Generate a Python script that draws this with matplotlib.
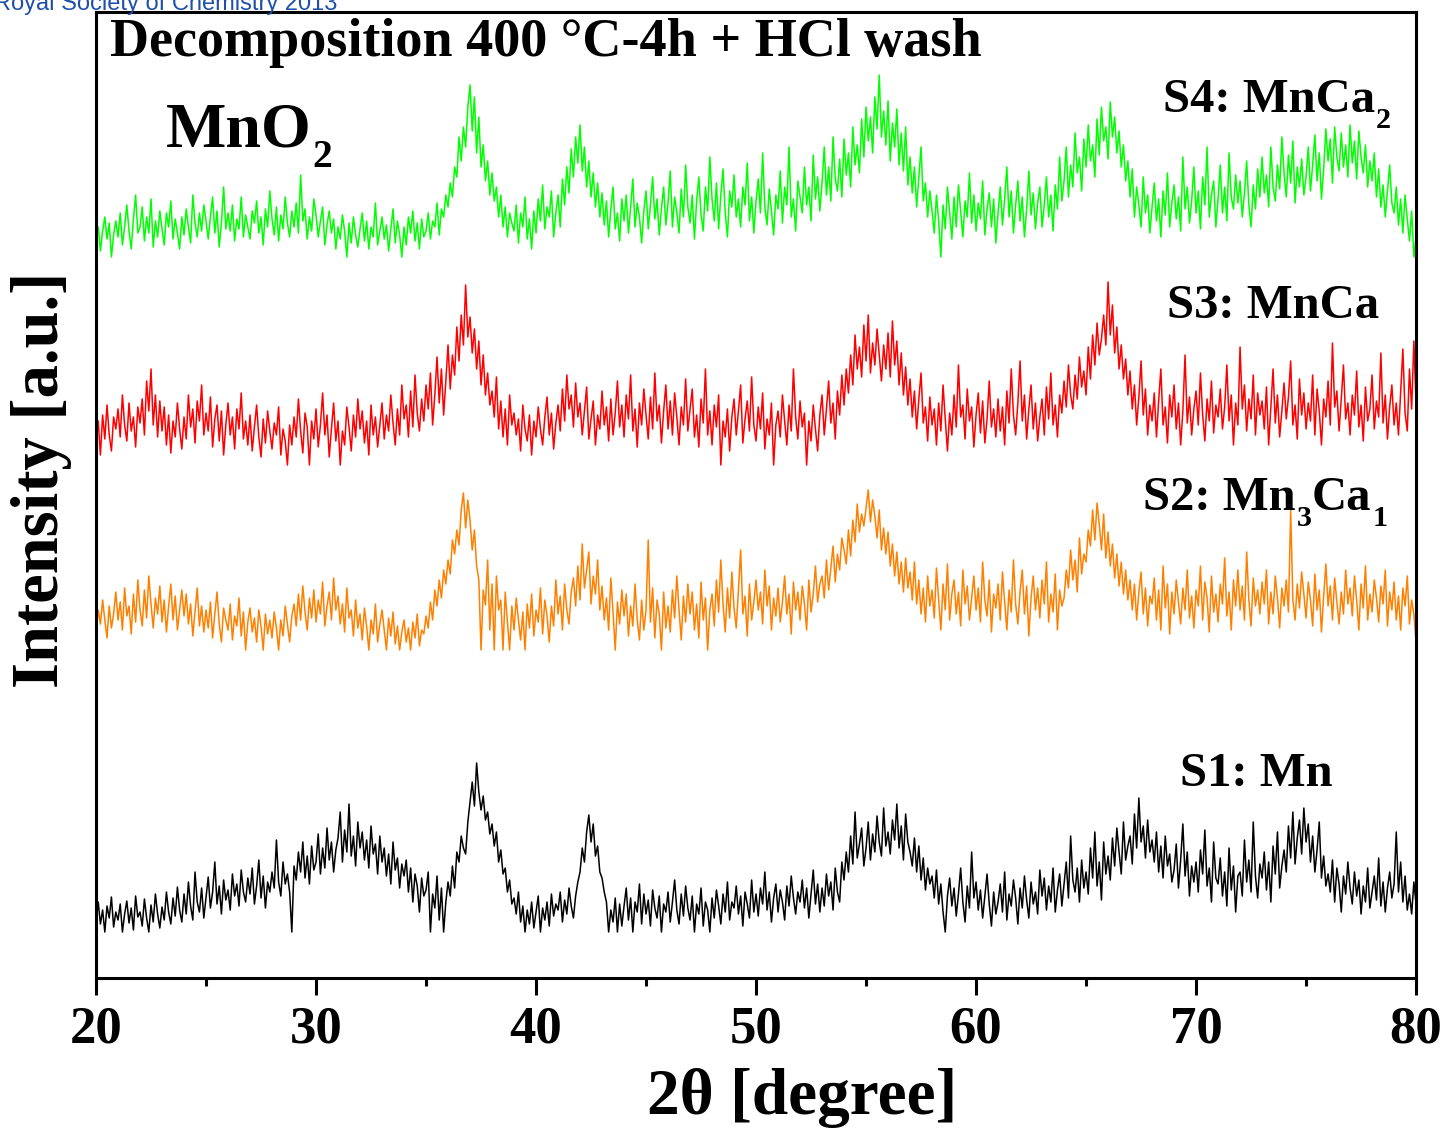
import numpy as np
import matplotlib
matplotlib.use('Agg')
import matplotlib.pyplot as plt
from matplotlib.ticker import MultipleLocator

plt.rcParams['font.family'] = 'Liberation Serif'
plt.rcParams['font.weight'] = 'bold'

# XRD scans, 20-80 deg in 0.1 deg steps, counts above each scan's floor
step = 0.1
theta0 = 20.0

s1_mn = [
    10, 30, 8, 22, 0, 26, 14, 35, 5, 20,
    12, 28, 0, 18, 31, 9, 24, 2, 36, 15,
    20, 6, 33, 14, 0, 27, 10, 38, 18, 4,
    25, 12, 40, 20, 8, 34, 16, 45, 22, 10,
    38, 18, 50, 26, 12, 60, 30, 20, 44, 14,
    35, 55, 24, 40, 70, 28, 46, 18, 52, 32,
    42, 22, 58, 36, 48, 26, 62, 40, 30, 54,
    38, 64, 28, 46, 72, 34, 56, 24, 50, 40,
    60, 44, 92, 50, 36, 70, 48, 58, 40, 0,
    66, 52, 80, 60, 90, 54, 76, 48, 86, 62,
    70, 98, 58, 84, 64, 104, 72, 90, 60, 82,
    94, 120, 70, 102, 80, 128, 76, 96, 66, 110,
    84, 100, 72, 92, 64, 106, 78, 88, 58, 96,
    70, 84, 56, 78, 48, 90, 62, 74, 44, 68,
    56, 72, 40, 64, 30, 58, 46, 20, 54, 36,
    42, 60, 0, 38, 24, 56, 12, 44, 0, 30,
    50, 36, 66, 44, 80, 70, 96, 84, 78, 110,
    130, 150, 126, 169, 140, 122, 136, 112, 120, 98,
    108, 86, 100, 70, 82, 58, 64, 40, 52, 28,
    34, 18, 40, 10, 26, 0, 22, 8, 30, 4,
    20, 36, 0, 24, 12, 30, 6, 38, 16, 28,
    22, 40, 10, 32, 18, 44, 26, 14, 36, 50,
    60, 84, 70, 100, 117, 90, 108, 76, 86, 60,
    54, 40, 30, 0, 22, 10, 34, 0, 28, 6,
    26, 44, 12, 34, 0, 30, 20, 48, 8, 38,
    18, 32, 6, 42, 24, 14, 36, 0, 28, 20,
    40, 10, 30, 52, 22, 8, 38, 16, 46, 24,
    12, 36, 0, 28, 18, 44, 6, 30, 22, 0,
    34, 14, 42, 26, 8, 38, 20, 50, 12, 30,
    24, 46, 18, 36, 6, 40, 28, 14, 52, 20,
    38, 16, 44, 28, 60, 22, 40, 10, 34, 48,
    20, 42, 30, 12, 46, 26, 56, 34, 18, 40,
    30, 52, 24, 44, 14, 38, 62, 28, 48, 20,
    44, 26, 58, 36, 50, 22, 64, 40, 30, 70,
    52, 80, 60, 96, 68, 120, 74, 88, 104, 66,
    84, 110, 72, 98, 80, 116, 90, 76, 124, 86,
    100, 78, 112, 92, 128, 84, 106, 72, 118, 90,
    80, 66, 94, 60, 86, 52, 74, 42, 64, 48,
    56, 34, 62, 28, 48, 20, 0, 36, 54, 26,
    44, 16, 38, 64, 30, 10, 46, 24, 80, 34,
    50, 22, 42, 14, 36, 58, 28, 6, 40, 18,
    30, 48, 20, 60, 12, 38, 26, 52, 34, 8,
    44, 24, 56, 32, 14, 50, 28, 40, 18, 62,
    36, 54, 22, 46, 30, 64, 20, 42, 58, 26,
    48, 70, 34, 96, 52, 40, 64, 30, 72, 44,
    60, 38, 84, 54, 100, 46, 70, 32, 90, 58,
    76, 52, 94, 66, 104, 80, 58, 110, 72, 86,
    96, 68, 118, 84, 134, 90, 106, 74, 112, 80,
    92, 70, 100, 60, 86, 54, 96, 66, 78, 50,
    62, 88, 44, 72, 108, 56, 80, 36, 66, 50,
    70, 40, 82, 58, 102, 46, 64, 30, 90, 54,
    48, 74, 36, 60, 26, 84, 42, 66, 20, 56,
    60, 36, 92, 50, 72, 40, 110, 56, 34, 68,
    54, 80, 42, 70, 30, 86, 58, 100, 44, 66,
    82, 60, 106, 74, 120, 68, 94, 112, 78, 124,
    90, 108, 70, 96, 60, 82, 110, 54, 76, 46,
    58, 40, 72, 30, 64, 48, 20, 56, 38, 70,
    44, 28, 60, 36, 52, 18, 46, 30, 64, 24,
    40, 56, 32, 74, 26, 50, 20, 44, 60, 34,
    48, 100, 40, 70, 30, 56, 22, 38, 18, 50,
    28,
]

s2_mn3ca1 = [
    18, 40, 26, 50, 30, 12, 44, 22, 36, 58,
    30, 48, 20, 62, 34, 44, 16, 56, 28, 70,
    40, 24, 60, 32, 74, 46, 22, 52, 36, 64,
    28, 50, 18, 44, 66, 30, 54, 20, 40, 60,
    34, 56, 26, 46, 14, 38, 62, 24, 44, 18,
    40, 22, 48, 12, 36, 58, 26, 8, 42, 30,
    20, 46, 10, 34, 24, 52, 14, 38, 0, 28,
    42, 18, 32, 8, 40, 24, 0, 36, 16, 30,
    12, 38, 22, 0, 30, 14, 44, 26, 8, 34,
    46, 24, 56, 30, 64, 38, 20, 52, 32, 60,
    28, 50, 36, 68, 24, 44, 58, 30, 72, 40,
    54, 26, 46, 18, 62, 32, 40, 14, 50, 22,
    36, 10, 42, 24, 0, 30, 16, 46, 8, 26,
    40, 20, 0, 32, 14, 38, 6, 24, 0, 18,
    30, 8, 22, 0, 28, 12, 36, 4, 20, 16,
    34, 22, 48, 30, 60, 44, 70, 52, 80, 66,
    90, 76, 110, 96, 120, 105, 140, 157, 122, 150,
    130, 100, 120, 84, 70, 0, 60, 45, 90, 20,
    66, 0, 74, 40, 50, 0, 58, 28, 0, 44,
    20, 52, 30, 10, 38, 0, 46, 22, 56, 14,
    40, 28, 62, 16, 50, 34, 8, 44, 24, 70,
    36, 54, 20, 66, 40, 26, 58, 72, 44, 84,
    50, 106, 62, 80, 98, 46, 74, 56, 90, 40,
    64, 30, 52, 20, 72, 38, 0, 48, 26, 60,
    34, 56, 14, 44, 24, 66, 30, 10, 50, 20,
    40, 110, 28, 62, 12, 50, 36, 0, 58, 22,
    44, 18, 60, 32, 74, 40, 10, 54, 28, 66,
    36, 58, 20, 46, 12, 68, 30, 52, 0, 40,
    56, 24, 70, 38, 90, 46, 18, 62, 32, 78,
    42, 22, 60, 100, 36, 54, 14, 66, 30, 48,
    70, 40, 58, 26, 80, 44, 64, 20, 52, 34,
    62, 28, 48, 74, 36, 56, 16, 68, 40, 58,
    30, 64, 46, 20, 70, 38, 56, 84, 48, 66,
    74, 52, 90, 60, 82, 104, 68, 96, 80, 112,
    100, 86, 120, 94, 130, 108, 146, 118, 136, 124,
    142, 160, 128, 150, 134, 112, 140, 100, 122, 96,
    118, 84, 106, 74, 98, 66, 88, 58, 92, 62,
    78, 50, 88, 46, 70, 36, 62, 28, 74, 44,
    60, 32, 82, 50, 20, 66, 40, 86, 30, 56,
    70, 36, 58, 24, 80, 46, 64, 30, 52, 74,
    40, 62, 28, 88, 50, 34, 70, 18, 56, 42,
    66, 30, 78, 48, 20, 60, 38, 90, 46, 26,
    58, 80, 36, 64, 14, 52, 74, 40, 62, 32,
    70, 46, 88, 28, 56, 38, 76, 20, 60, 44,
    52, 80, 62, 100, 70, 90, 58, 112, 76, 96,
    88, 120, 104, 140, 110, 147, 126, 100, 136, 92,
    118, 84, 106, 72, 96, 64, 88, 56, 80, 50,
    70, 40, 66, 30, 58, 78, 36, 62, 24, 54,
    46, 72, 30, 60, 20, 84, 42, 66, 16, 58,
    36, 70, 48, 26, 62, 40, 80, 32, 54, 22,
    60, 44, 84, 30, 68, 52, 18, 74, 38, 56,
    28, 66, 46, 92, 34, 58, 20, 70, 44, 80,
    40, 64, 30, 98, 50, 24, 72, 44, 60, 36,
    68, 46, 80, 26, 58, 36, 74, 52, 22, 62,
    44, 70, 38, 140, 50, 30, 66, 42, 78, 56,
    32, 68, 50, 24, 76, 40, 60, 18, 54, 86,
    44, 64, 30, 72, 48, 26, 58, 36, 80, 46,
    62, 34, 74, 50, 20, 66, 42, 84, 30, 56,
    38, 70, 52, 28, 64, 46, 80, 24, 58, 40,
    68, 30, 54, 20, 62, 44, 74, 26, 50, 36,
    8,
]

s3_mnca = [
    20, 44, 10, 50, 26, 60, 30, 14, 48, 36,
    56, 28, 70, 40, 24, 62, 34, 48, 18, 58,
    42, 66, 30, 84, 54, 96, 40, 70, 28, 64,
    34, 58, 20, 50, 12, 44, 28, 62, 36, 16,
    48, 26, 70, 38, 56, 22, 64, 44, 80, 30,
    52, 34, 68, 18, 46, 60, 24, 54, 10, 40,
    62, 30, 48, 16, 56, 36, 72, 26, 44, 20,
    50, 14, 38, 60, 28, 8, 46, 22, 54, 34,
    16, 42, 30, 58, 10, 36, 24, 0, 40, 20,
    48, 28, 66, 34, 12, 52, 38, 0, 44, 26,
    56, 18, 40, 72, 30, 50, 8, 36, 62, 24,
    44, 0, 34, 20, 58, 38, 14, 50, 28, 66,
    36, 54, 22, 44, 10, 60, 30, 48, 18, 40,
    62, 26, 50, 34, 70, 42, 20, 56, 30, 80,
    46, 60, 28, 74, 38, 90, 52, 34, 66, 44,
    80, 56, 92, 40, 70, 108, 62, 96, 50, 84,
    120, 76, 110, 90, 138, 104, 150, 120, 180, 128,
    148, 112, 136, 96, 124, 80, 110, 70, 92, 60,
    74, 48, 88, 36, 64, 28, 56, 20, 70, 40,
    52, 30, 46, 14, 60, 36, 24, 50, 10, 44,
    28, 58, 36, 20, 48, 68, 30, 52, 16, 42,
    60, 34, 76, 44, 90, 56, 70, 38, 82, 48,
    62, 30, 54, 78, 26, 46, 64, 20, 50, 36,
    74, 40, 58, 24, 66, 30, 52, 84, 38, 60,
    28, 70, 46, 90, 34, 56, 18, 62, 40, 76,
    50, 26, 68, 36, 92, 44, 60, 22, 54, 80,
    36, 64, 30, 72, 48, 20, 58, 40, 86, 34,
    56, 76, 28, 50, 18, 66, 42, 96, 30, 54,
    20, 60, 38, 70, 0, 44, 28, 56, 14, 48,
    66, 30, 54, 80, 22, 46, 64, 34, 88, 40,
    24, 58, 36, 72, 16, 46, 30, 62, 0, 40,
    54, 28, 70, 44, 20, 60, 34, 96, 48, 26,
    64, 38, 52, 0, 44, 24, 60, 36, 14, 50,
    70, 30, 56, 84, 42, 62, 26, 74, 50, 90,
    60, 96, 72, 110, 80, 130, 96, 118, 88, 140,
    104, 150, 92, 122, 100, 136, 110, 84, 120, 96,
    132, 88, 144, 100, 124, 80, 112, 70, 98, 60,
    86, 48, 74, 36, 66, 92, 42, 58, 24, 68,
    40, 56, 20, 62, 34, 80, 46, 14, 52, 30,
    70, 38, 100, 48, 60, 26, 76, 44, 58, 18,
    50, 72, 32, 64, 22, 46, 84, 38, 56, 28,
    66, 34, 58, 20, 74, 42, 96, 50, 30, 62,
    104, 44, 70, 26, 56, 80, 36, 62, 24, 48,
    66, 30, 78, 46, 92, 40, 60, 28, 70, 52,
    84, 58, 100, 70, 56, 90, 66, 108, 78, 94,
    70, 118, 86, 130, 100, 142, 110, 126, 150, 120,
    183, 130, 160, 112, 138, 96, 120, 86, 106, 70,
    94, 56, 80, 40, 68, 104, 50, 76, 30, 60,
    44, 72, 28, 64, 96, 40, 58, 22, 70, 48,
    80, 36, 62, 20, 54, 110, 42, 68, 30, 56,
    74, 40, 92, 50, 24, 66, 44, 84, 32, 60,
    48, 76, 36, 58, 100, 44, 70, 20, 62, 40,
    118, 56, 80, 34, 66, 46, 90, 30, 72, 50,
    64, 36, 78, 20, 58, 96, 42, 70, 28, 54,
    82, 46, 68, 104, 40, 60, 26, 86, 50, 72,
    36, 62, 44, 90, 30, 76, 54, 20, 66, 48,
    84, 40, 122, 58, 74, 34, 66, 100, 46, 62,
    30, 70, 50, 94, 38, 60, 24, 78, 44, 56,
    90, 36, 64, 48, 112, 42, 70, 26, 58, 80,
    40, 62, 30, 74, 116, 52, 34, 96, 56, 124,
    60,
]

s4_mnca2 = [
    14, 30, 6, 26, 40, 18, 34, 0, 22, 36,
    20, 44, 12, 30, 52, 26, 8, 38, 62, 24,
    30, 50, 16, 40, 24, 58, 10, 36, 20, 46,
    28, 12, 44, 30, 56, 18, 38, 24, 8, 40,
    22, 48, 30, 14, 62, 34, 20, 44, 26, 52,
    36, 18, 40, 60, 24, 46, 10, 34, 70, 28,
    44, 26, 52, 16, 38, 28, 60, 20, 42, 30,
    18, 46, 34, 56, 24, 40, 12, 48, 30, 66,
    38, 22, 50, 16, 42, 28, 60, 34, 20, 46,
    30, 54, 24, 82, 36, 48, 18, 40, 26, 58,
    42, 20, 36, 50, 12, 32, 46, 24, 38, 8,
    30, 18, 42, 26, 0, 34, 14, 40, 22, 10,
    28, 44, 16, 36, 8, 30, 20, 54, 12, 26,
    40, 18, 32, 6, 28, 48, 14, 36, 22, 0,
    30, 12, 40, 24, 46, 16, 34, 8, 38, 20,
    26, 44, 18, 36, 30, 54, 22, 48, 40, 62,
    50, 74, 60, 90, 80, 120, 96, 130, 110, 150,
    172, 126, 160, 104, 140, 90, 112, 76, 96, 62,
    84, 56, 70, 40, 62, 30, 50, 20, 44, 34,
    26, 52, 14, 44, 30, 60, 18, 38, 8, 46,
    24, 58, 36, 72, 28, 50, 40, 66, 20, 44,
    62, 30, 78, 52, 90, 64, 108, 80, 120, 94,
    132, 86, 110, 70, 96, 60, 84, 50, 74, 40,
    64, 32, 56, 20, 48, 70, 28, 44, 16, 58,
    36, 62, 24, 50, 78, 30, 54, 40, 14, 46,
    66, 28, 52, 80, 38, 58, 22, 48, 70, 32,
    54, 86, 30, 60, 44, 24, 68, 40, 92, 50,
    34, 62, 18, 56, 80, 42, 26, 70, 46, 100,
    58, 36, 74, 28, 62, 88, 44, 20, 66, 50,
    82, 40, 58, 30, 70, 52, 94, 36, 60, 24,
    56, 78, 44, 104, 50, 32, 68, 46, 22, 62,
    48, 86, 34, 70, 52, 110, 40, 58, 26, 76,
    60, 44, 90, 52, 70, 36, 102, 58, 80, 46,
    74, 110, 62, 90, 56, 120, 78, 66, 98, 60,
    118, 82, 104, 70, 130, 92, 112, 84, 138, 100,
    150, 116, 140, 104, 160, 128, 182, 120, 146, 112,
    156, 96, 134, 110, 148, 92, 124, 86, 130, 72,
    100, 64, 90, 50, 80, 110, 56, 74, 40, 66,
    46, 24, 62, 36, 0, 52, 28, 70, 44, 18,
    60, 30, 72, 46, 20, 56, 40, 84, 34, 62,
    26, 54, 38, 76, 22, 48, 64, 30, 58, 14,
    44, 70, 32, 58, 90, 40, 66, 24, 52, 76,
    36, 60, 20, 48, 86, 42, 64, 28, 54, 70,
    30, 52, 80, 40, 62, 26, 72, 48, 100, 56,
    76, 110, 60, 92, 70, 124, 84, 100, 66, 118,
    90, 132, 96, 112, 80, 138, 102, 150, 116, 130,
    98, 155, 120, 140, 104, 126, 90, 112, 76, 96,
    60, 88, 40, 70, 52, 30, 80, 44, 62, 24,
    50, 74, 36, 58, 20, 66, 42, 84, 30, 54,
    72, 38, 60, 26, 100, 48, 70, 34, 56, 90,
    44, 66, 28, 80, 52, 110, 40, 62, 76, 30,
    58, 92, 44, 70, 36, 104, 60, 48, 82, 54,
    76, 40, 64, 96, 52, 30, 72, 48, 88, 60,
    100, 64, 82, 50, 110, 70, 56, 92, 68, 120,
    84, 60, 102, 74, 116, 54, 90, 70, 98, 62,
    80, 110, 66, 92, 122, 76, 104, 58, 88, 128,
    96, 118, 74, 130, 100, 86, 124, 90, 112, 80,
    132, 94, 116, 78, 126, 100, 84, 112, 70, 96,
    76, 104, 60, 88, 50, 72, 40, 66, 92, 54,
    44, 70, 32, 58, 24, 62, 38, 16, 46, 0,
    20,
]

# vertical stacking offsets for each scan
offsets = [46, 328, 513, 721]
colors = ['black', '#ff8000', '#ff0000', '#00ff00']
scans = [s1_mn, s2_mn3ca1, s3_mnca, s4_mnca2]
# label pieces: (text, is_subscript)
labels = [
    [('S1: Mn', False)],
    [('S2: Mn', False), ('3', True), ('Ca', False), ('1', True)],
    [('S3: MnCa', False)],
    [('S4: MnCa', False), ('2', True)],
]
label_pos = [(69.27, 192), (67.59, 468), (68.68, 660), (68.5, 866)]

fig = plt.figure(figsize=(14.46, 11.30), dpi=100)
ax = fig.add_axes([0.0664, 0.1345, 0.9129, 0.8549])


def chem_text(x, y, pieces, size):
    # writes pieces one after another, subscripts smaller and dropped
    prev = None
    for s, sub in pieces:
        fs = size * 0.62 if sub else size
        dy = -0.32 * size if sub else 0
        if prev is None:
            prev = ax.text(x, y, s, fontsize=fs, fontweight='bold',
                           ha='left', va='baseline')
        else:
            prev = ax.annotate(s, xy=(1, y), xycoords=(prev, 'data'),
                               xytext=(0.5, dy), textcoords='offset points',
                               fontsize=fs, fontweight='bold',
                               ha='left', va='baseline')


for s, off, c in zip(scans, offsets, colors):
    tt = theta0 + step * np.arange(len(s))
    ax.plot(tt, np.array(s) + off, color=c, lw=1.1)

for lab, (lx, ly) in zip(labels, label_pos):
    chem_text(lx, ly, lab, 35)

ax.text(20.64, 922, 'Decomposition 400 \u00b0C-4h + HCl wash', fontsize=39,
        fontweight='bold', ha='left', va='baseline')
chem_text(23.18, 831, [('MnO', False), ('2', True)], 46)

ax.set_xlim(20, 80)
ax.set_ylim(0, 966)
ax.xaxis.set_major_locator(MultipleLocator(10))
ax.xaxis.set_minor_locator(MultipleLocator(5))
ax.tick_params(axis='x', which='major', length=12, width=2.2, direction='out',
               labelsize=38, pad=8)
ax.tick_params(axis='x', which='minor', length=6, width=2.2, direction='out')
ax.set_yticks([])
for sp in ax.spines.values():
    sp.set_linewidth(2.2)
for lab in ax.get_xticklabels():
    lab.set_fontweight('bold')

fig.text(0.555, 0.028, '2\u03b8 [degree]', fontsize=47, fontweight='bold',
         ha='center', va='center')
fig.text(0.029, 0.575, 'Intensity [a.u.]', fontsize=48, fontweight='bold',
         ha='center', va='center', rotation=90)

# publisher stamp, cut off by the top edge
fig.text(-0.004, 0.9965, 'Royal Society of Chemistry 2013', fontsize=17,
         family='Liberation Sans', fontweight='normal', color='#1f4fa8',
         ha='left', va='center')

fig.savefig('out.png', dpi=100)
